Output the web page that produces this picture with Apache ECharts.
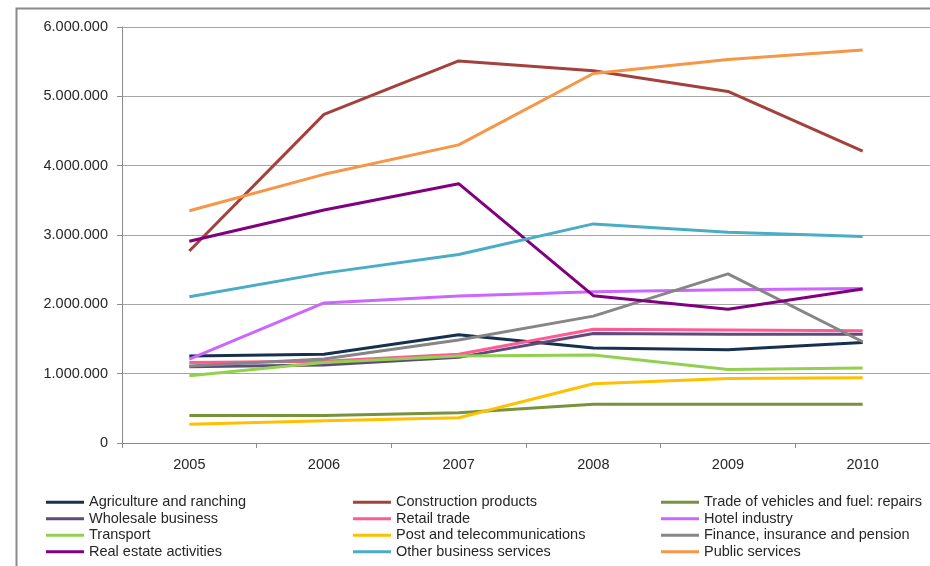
<!DOCTYPE html>
<html>
<head>
<meta charset="utf-8">
<script src="https://cdn.jsdelivr.net/npm/echarts@6/dist/echarts.min.js"></script>
<style>
html,body{margin:0;padding:0;background:#fff;}
#chart{width:930px;height:566px;}
</style>
</head>
<body>
<div id="chart"></div>
<script>
var years = ['2005','2006','2007','2008','2009','2010'];
var seriesNames = [
  'Agriculture and ranching','Construction products','Trade of vehicles and fuel: repairs',
  'Wholesale business','Retail trade','Hotel industry',
  'Transport','Post and telecommunications','Finance, insurance and pension',
  'Real estate activities','Other business services','Public services'
];
var agriculture   = [1255000, 1280000, 1560000, 1370000, 1345000, 1450000];
var construction  = [2770000, 4740000, 5510000, 5370000, 5070000, 4210000];
var tradeVehicles = [395000, 395000, 437000, 560000, 560000, 560000];
var wholesale     = [1100000, 1125000, 1235000, 1580000, 1570000, 1570000];
var retail        = [1160000, 1180000, 1280000, 1640000, 1630000, 1620000];
var hotel         = [1210000, 2020000, 2120000, 2180000, 2210000, 2230000];
var transport     = [970000, 1160000, 1255000, 1270000, 1060000, 1080000];
var post          = [270000, 320000, 365000, 855000, 930000, 940000];
var finance       = [1110000, 1210000, 1485000, 1830000, 2440000, 1460000];
var realEstate    = [2910000, 3360000, 3740000, 2125000, 1930000, 2220000];
var otherBusiness = [2110000, 2450000, 2720000, 3160000, 3040000, 2980000];
var publicServ    = [3350000, 3875000, 4300000, 5330000, 5530000, 5670000];
var yTicks = [0, 1000000, 2000000, 3000000, 4000000, 5000000, 6000000];

var allData = [agriculture, construction, tradeVehicles, wholesale, retail, hotel,
               transport, post, finance, realEstate, otherBusiness, publicServ];
var colors = ['#17304f','#a3423d','#77933c','#604a7b','#ff5a94','#cc66ff',
              '#92d050','#ffc000','#868686','#800080','#4bacc6','#f79646'];

var FONT = 'Liberation Sans';
var chart = echarts.init(document.getElementById('chart'));

function fmt(v){
  return String(v).replace(/\B(?=(\d{3})+(?!\d))/g, '.');
}

var series = seriesNames.map(function(n, i){
  return {
    name: n, type: 'line', data: allData[i],
    showSymbol: false, symbol: 'none',
    lineStyle: {width: 3, color: colors[i]},
    itemStyle: {color: colors[i]},
    animation: false
  };
});

function legendCol(left, idxs){
  return {
    orient: 'vertical', left: left, top: 494, padding: 0, height: 70,
    icon: 'rect', itemWidth: 38, itemHeight: 3, itemGap: 0,
    data: idxs.map(function(i){ return seriesNames[i]; }),
    textStyle: {fontFamily: FONT, fontSize: 14.5, color: '#262626', lineHeight: 16.5},
    selectedMode: false
  };
}

chart.setOption({
  animation: false,
  color: colors,
  graphic: [{
    type: 'rect', left: 14, top: 6,
    shape: {width: 1000, height: 700},
    style: {fill: 'none', stroke: '#8a8a8a', lineWidth: 2},
    silent: true, z: -1
  }],
  grid: {left: 122, top: 27, width: 816, height: 416, containLabel: false},
  legend: [
    legendCol(46, [0,3,6,9]),
    legendCol(353, [1,4,7,10]),
    legendCol(661, [2,5,8,11])
  ],
  xAxis: {
    type: 'category', data: years, boundaryGap: true,
    axisLine: {show: true, lineStyle: {color: '#8c8c8c', width: 1}},
    axisTick: {show: true, length: 5, alignWithLabel: false, lineStyle: {color: '#8c8c8c'}},
    axisLabel: {fontFamily: FONT, fontSize: 14.5, color: '#262626', margin: 14},
    splitLine: {show: false}
  },
  yAxis: {
    type: 'value', min: yTicks[0], max: yTicks[yTicks.length-1], interval: yTicks[1]-yTicks[0],
    axisLine: {show: true, lineStyle: {color: '#8c8c8c', width: 1}},
    axisTick: {show: true, length: 5, lineStyle: {color: '#8c8c8c'}},
    axisLabel: {fontFamily: FONT, fontSize: 14.5, color: '#262626', margin: 14, formatter: fmt},
    splitLine: {show: true, lineStyle: {color: '#a6a6a6', width: 1}}
  },
  series: series
});
</script>
</body>
</html>
